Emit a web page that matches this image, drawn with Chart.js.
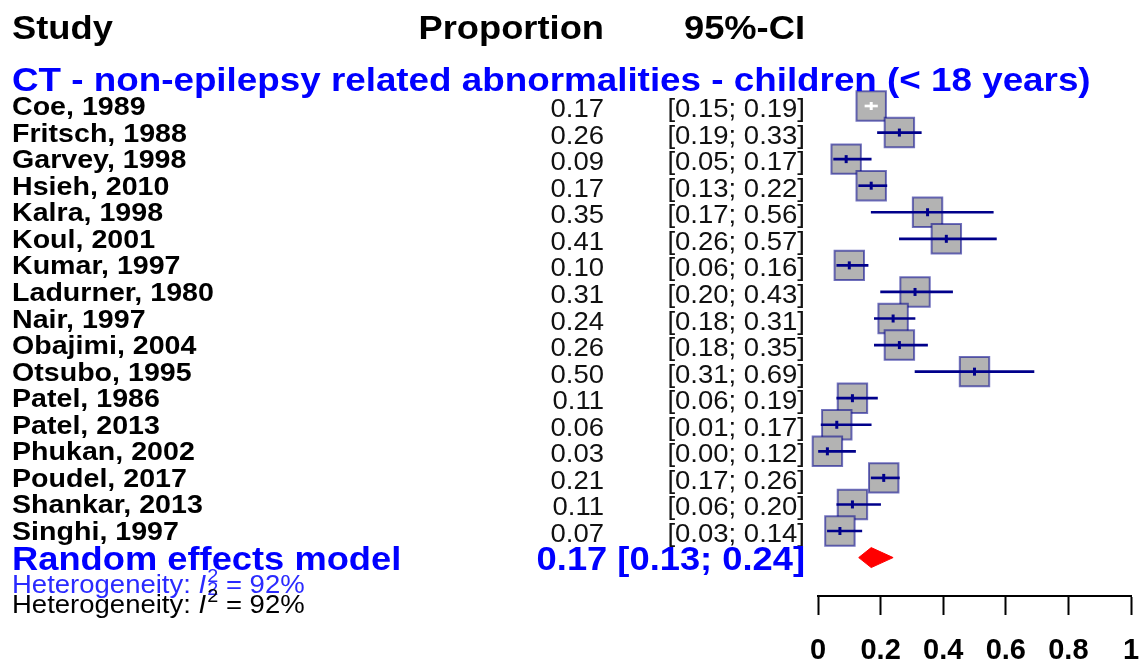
<!DOCTYPE html>
<html lang="en">
<head>
<meta charset="UTF-8" />
<title>Forest plot - CT non-epilepsy related abnormalities</title>
<script src="https://cdn.jsdelivr.net/npm/chart.js"></script>
<style>
  html, body { margin: 0; padding: 0; background: #fff; }
  #wrap { width: 1144px; height: 664px; }
</style>
</head>
<body>
<div id="wrap"><canvas id="forest" width="1144" height="664"></canvas></div>
<script>
// data
const studies = ['Coe, 1989', 'Fritsch, 1988', 'Garvey, 1998', 'Hsieh, 2010', 'Kalra, 1998',
  'Koul, 2001', 'Kumar, 1997', 'Ladurner, 1980', 'Nair, 1997', 'Obajimi, 2004', 'Otsubo, 1995',
  'Patel, 1986', 'Patel, 2013', 'Phukan, 2002', 'Poudel, 2017', 'Shankar, 2013', 'Singhi, 1997'];
const proportion = [0.17, 0.26, 0.09, 0.17, 0.35, 0.41, 0.10, 0.31, 0.24, 0.26, 0.50, 0.11, 0.06, 0.03, 0.21, 0.11, 0.07];
const ciLower = [0.15, 0.19, 0.05, 0.13, 0.17, 0.26, 0.06, 0.20, 0.18, 0.18, 0.31, 0.06, 0.01, 0.00, 0.17, 0.06, 0.03];
const ciUpper = [0.19, 0.33, 0.17, 0.22, 0.56, 0.57, 0.16, 0.43, 0.31, 0.35, 0.69, 0.19, 0.17, 0.12, 0.26, 0.20, 0.14];
const pooled = [0.13, 0.17, 0.24]; // random effects: lower, estimate, upper
const heterogeneityI2 = 92;
const xTicks = [0, 0.2, 0.4, 0.6, 0.8, 1];

const SQUARE = '#b3b3b3';
const NAVY = '#00008b';
const FONT = '"Liberation Sans", Arial, Helvetica, sans-serif';
const SX = 1.1; // the original text is a little stretched sideways

const pooledRow = studies.length;
const fmt = v => v.toFixed(2);

// CI inside the square is drawn white, like meta::forest does
const ciColor = proportion.map((p, i) => (ciUpper[i] - ciLower[i] < 0.09 ? '#ffffff' : NAVY));

function txt(ctx, s, x, y, font, color, align, sx) {
  ctx.save();
  ctx.font = font;
  ctx.fillStyle = color;
  ctx.textAlign = align || 'left';
  ctx.textBaseline = 'alphabetic';
  ctx.translate(x, y);
  ctx.scale(sx || SX, 1);
  ctx.fillText(s, 0, 0);
  ctx.restore();
}

function heterogeneity(ctx, x, y, color, withSub) {
  ctx.save();
  ctx.fillStyle = color;
  ctx.textBaseline = 'alphabetic';
  ctx.translate(x, y);
  ctx.scale(SX, 1);
  ctx.font = '25px ' + FONT;
  const a = 'Heterogeneity: ';
  ctx.fillText(a, 0, 0);
  let cx = ctx.measureText(a).width;
  ctx.font = 'italic 25px ' + FONT;
  ctx.fillText('I', cx, 0);
  cx += ctx.measureText('I').width + 1;
  ctx.font = '18px ' + FONT;
  ctx.fillText('2', cx, -11);
  if (withSub) ctx.fillText('2', cx, 2);
  cx += ctx.measureText('2').width;
  ctx.font = '25px ' + FONT;
  ctx.fillText(' = ' + heterogeneityI2 + '%', cx, 0);
  ctx.restore();
}

const textColumns = {
  id: 'textColumns',
  afterDraw(chart) {
    const ctx = chart.ctx;
    const y = chart.scales.y;
    txt(ctx, 'Study', 12, 39, 'bold 33px ' + FONT, '#000');
    txt(ctx, 'Proportion', 604, 39, 'bold 33px ' + FONT, '#000', 'right');
    txt(ctx, '95%-CI', 805, 39, 'bold 33px ' + FONT, '#000', 'right');
    txt(ctx, 'CT - non-epilepsy related abnormalities - children (< 18 years)', 12, 91,
      'bold 33px ' + FONT, '#0000ff', 'left', 1.115);
    studies.forEach((s, i) => {
      const py = y.getPixelForValue(i);
      txt(ctx, s, 12, py + 9, 'bold 26px ' + FONT, '#000');
      txt(ctx, fmt(proportion[i]), 604, py + 11, '25px ' + FONT, '#111', 'right');
      txt(ctx, '[' + fmt(ciLower[i]) + '; ' + fmt(ciUpper[i]) + ']', 805, py + 11, '25px ' + FONT, '#111', 'right');
    });
    const ry = y.getPixelForValue(pooledRow);
    txt(ctx, 'Random effects model', 12, ry + 12, 'bold 33px ' + FONT, '#0000ff');
    txt(ctx, fmt(pooled[1]) + ' [' + fmt(pooled[0]) + '; ' + fmt(pooled[2]) + ']', 805, ry + 12,
      'bold 33px ' + FONT, '#0000ff', 'right');
    heterogeneity(ctx, 12, ry + 35, '#2a2aff', true);
    heterogeneity(ctx, 12, ry + 55, '#000', false);
  }
};

const rowH = 0.376; // half height of the diamond, in rows
const diamond = [
  { x: pooled[0], y: pooledRow },
  { x: pooled[1], y: pooledRow - rowH },
  { x: pooled[2], y: pooledRow },
  { x: pooled[1], y: pooledRow + rowH },
  { x: pooled[0], y: pooledRow }
];

new Chart(document.getElementById('forest'), {
  type: 'scatter',
  data: {
    datasets: [
      {
        label: 'squares',
        data: proportion.map((p, i) => ({ x: p, y: i })),
        pointStyle: 'rect',
        pointRadius: 20.8,
        backgroundColor: SQUARE,
        borderColor: 'rgba(0, 0, 139, 0.55)',
        borderWidth: 2,
        clip: false,
        order: 3
      },
      {
        type: 'bar',
        label: 'ci',
        indexAxis: 'y',
        data: proportion.map((p, i) => ({ x: [ciLower[i], ciUpper[i]], y: i })),
        backgroundColor: ciColor,
        borderWidth: 0,
        barThickness: 2,
        clip: false,
        order: 2
      },
      {
        label: 'estimate',
        data: proportion.map((p, i) => ({ x: p, y: i })),
        pointStyle: 'line',
        rotation: 90,
        pointRadius: 4,
        borderWidth: 3,
        borderColor: ciColor,
        clip: false,
        order: 1
      },
      {
        label: 'pooled',
        data: diamond,
        showLine: true,
        fill: 'shape',
        tension: 0,
        pointRadius: 0,
        borderWidth: 1,
        borderColor: '#ff0000',
        backgroundColor: '#ff0000',
        clip: false,
        order: 0
      }
    ]
  },
  options: {
    responsive: false,
    devicePixelRatio: 1,
    animation: false,
    events: [],
    layout: { autoPadding: false, padding: { left: 818, right: 13, top: 92, bottom: 0 } },
    plugins: { legend: { display: false }, tooltip: { enabled: false } },
    scales: {
      x: {
        type: 'linear',
        min: 0,
        max: 1,
        offset: false,
        afterBuildTicks: axis => { axis.ticks = xTicks.map(v => ({ value: v })); },
        afterFit: axis => {
          axis.height = 68;
          axis.paddingLeft = 0;
          axis.paddingRight = 0;
        },
        grid: { offset: false, drawOnChartArea: false, drawTicks: true, tickLength: 19, tickWidth: 2, color: '#000' },
        border: { display: true, color: '#000', width: 2 },
        ticks: {
          color: '#000',
          padding: 19,
          maxRotation: 0,
          font: { family: FONT, size: 29, weight: 'bold' },
          callback: v => String(v)
        }
      },
      y: {
        type: 'linear',
        display: false,
        reverse: true,
        offset: false,
        grid: { offset: false },
        min: -0.527,
        max: 18.446
      }
    }
  },
  plugins: [textColumns]
});
</script>
</body>
</html>
